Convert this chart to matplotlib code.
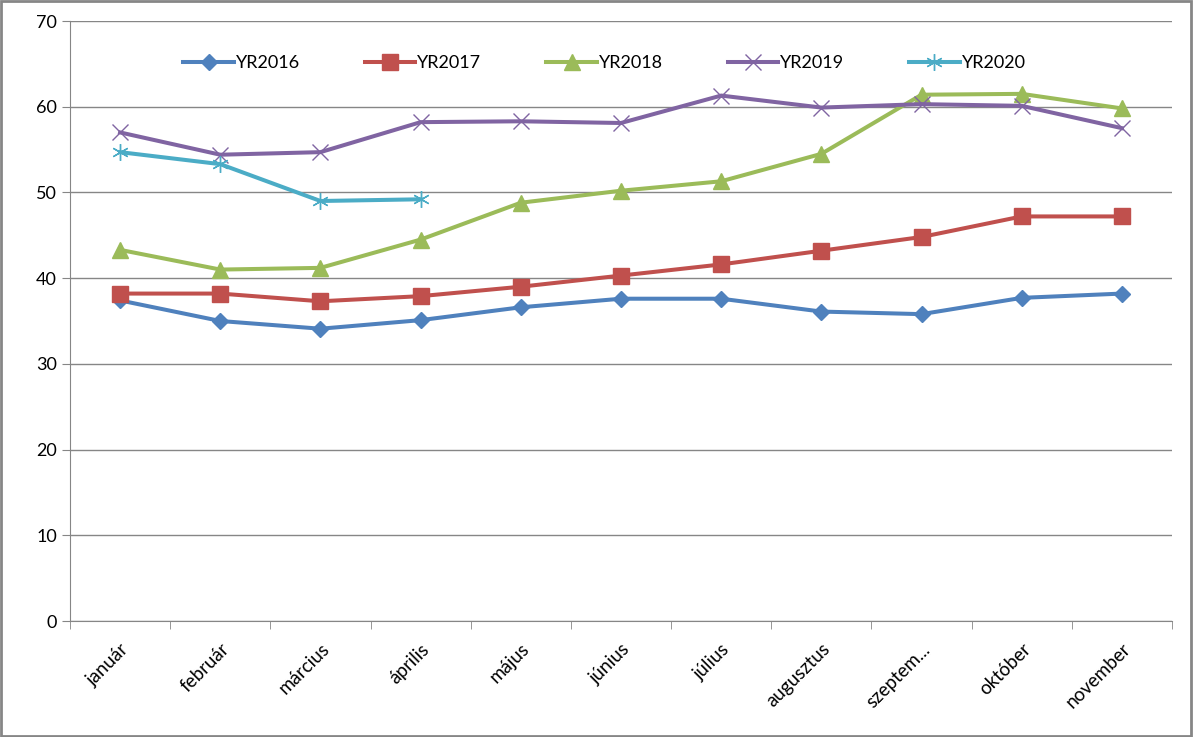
import matplotlib.pyplot as plt
from matplotlib.patches import Rectangle
import numpy as np

months = ["január", "február", "március", "április", "május", "június",
          "július", "augusztus", "szeptem...", "október", "november"]

yr2016 = [37.4, 35.0, 34.1, 35.1, 36.6, 37.6, 37.6, 36.1, 35.8, 37.7, 38.2]
yr2017 = [38.2, 38.2, 37.3, 37.9, 39.0, 40.3, 41.6, 43.2, 44.8, 47.2, 47.2]
yr2018 = [43.3, 41.0, 41.2, 44.5, 48.8, 50.2, 51.3, 54.5, 61.4, 61.5, 59.8]
yr2019 = [57.0, 54.4, 54.7, 58.2, 58.3, 58.1, 61.3, 59.9, 60.3, 60.1, 57.5]
yr2020 = [54.7, 53.3, 49.0, 49.2]

plt.rcParams['font.family'] = ['Lato', 'DejaVu Sans']

fig = plt.figure(figsize=(11.93, 7.37), dpi=100)
ax = fig.add_axes([70/1193, 116/737, 1102/1193, 600/737])

x = np.arange(len(months))
ax.plot(x, yr2016, color='#4F81BD', lw=2.9, marker='D', ms=8, label='YR2016')
ax.plot(x, yr2017, color='#C0504D', lw=2.9, marker='s', ms=11, label='YR2017')
ax.plot(x, yr2018, color='#9BBB59', lw=2.9, marker='^', ms=11, label='YR2018')
ax.plot(x, yr2019, color='#8064A2', lw=2.9, marker='x', ms=11, mew=1,
        mec='#8064A2', label='YR2019')
ax.plot(x[:len(yr2020)], yr2020, color='#4BACC6', lw=2.9, marker=(6, 2, 0),
        ms=12, mew=1, label='YR2020')

ax.set_xlim(-0.5, len(months) - 0.5)
ax.set_ylim(0, 70)
ax.set_yticks(range(0, 71, 10))
ax.yaxis.grid(True, color='#868686', lw=1)
ax.set_axisbelow(True)

ax.set_xticks(x)
ax.set_xticklabels(months, rotation=45, ha='right', rotation_mode='anchor')
ax.set_xticks(np.arange(-0.5, len(months)), minor=True)
ax.tick_params(axis='x', which='major', length=0, pad=14, labelsize=13.5)
ax.tick_params(axis='x', which='minor', length=6, color='#868686')
ax.tick_params(axis='y', length=6, color='#868686', labelsize=13)

for s in ['top', 'right']:
    ax.spines[s].set_visible(False)
for s in ['left', 'bottom']:
    ax.spines[s].set_color('#868686')

ax.legend(loc='center', bbox_to_anchor=(0.485, 0.93), ncol=5,
          frameon=False, fontsize=13, handlelength=2.8, columnspacing=3.6,
          handletextpad=0.1)

fig.patches.append(Rectangle((0.001, 0.001), 0.997, 0.997, transform=fig.transFigure,
                             fill=False, edgecolor='#868686', lw=2))

fig.savefig('out.png', dpi=100)
